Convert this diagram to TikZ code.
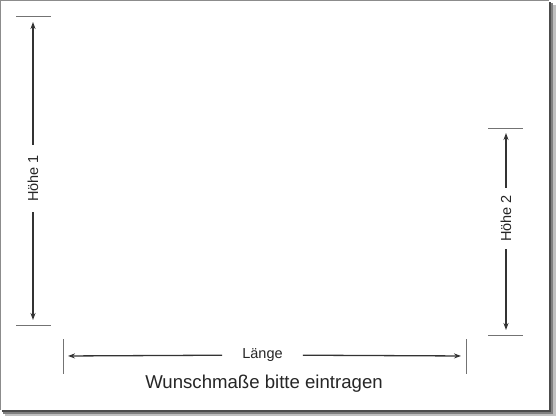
\documentclass[tikz,border=0pt]{standalone}
\usepackage{fontspec}
\setmainfont{Liberation Sans}
\usetikzlibrary{arrows.meta}
\begin{document}
\begin{tikzpicture}[x=1pt,y=-1pt,
  dimline/.style={draw=black!80, line width=1.3pt, -{Stealth[length=7pt,width=5pt]}, shorten >=5pt},
  tickline/.style={draw=black!55, line width=1pt},
  lbl/.style={font=\fontsize{14.5}{16}\selectfont, text=black!85, inner ysep=0pt}]
\useasboundingbox (0,0) rectangle (560,420);
\fill[white] (0,0) rectangle (560,420);
% shadow
\fill[black!25] (5,5) rectangle (556,416);
\fill[black!50] (3,3) rectangle (553,414);
\fill[black!70] (2,2) rectangle (551,412);
\fill[white] (0,0) rectangle (549,410);
\draw[black!45, line width=1pt] (0.5,0.5) -- (0.5,410) (0.5,0.5) -- (549,0.5);
% Hoehe 1
\coordinate (h1t) at (33,17);
\coordinate (h1b) at (33,325);
\draw[tickline] (16,17) -- (51,17) (16,325) -- (51,325);
\node[lbl, rotate=90, inner xsep=10pt] (h1) at (33,178.5) {Höhe 1};
\draw[dimline] (h1) -- (h1t);
\draw[dimline] (h1) -- (h1b);
% Hoehe 2
\coordinate (h2t) at (506,128);
\coordinate (h2b) at (506,335);
\draw[tickline] (488,128) -- (523,128) (488,335) -- (523,335);
\node[lbl, rotate=90, inner xsep=7pt] (h2) at (506,218.5) {Höhe 2};
\draw[dimline] (h2) -- (h2t);
\draw[dimline] (h2) -- (h2b);
% Laenge
\coordinate (ll) at (63,356);
\coordinate (lr) at (466,356);
\draw[tickline] (63,339) -- (63,374) (466,339) -- (466,374);
\node[lbl, inner xsep=20pt] (l) at (262.5,355) {Länge};
\draw[dimline] (l) -- (ll);
\draw[dimline] (l) -- (lr);
\node[font=\fontsize{18.6}{20}\selectfont, text=black!85] (w) at (264,384) {Wunschmaße bitte eintragen};
\end{tikzpicture}
\end{document}
